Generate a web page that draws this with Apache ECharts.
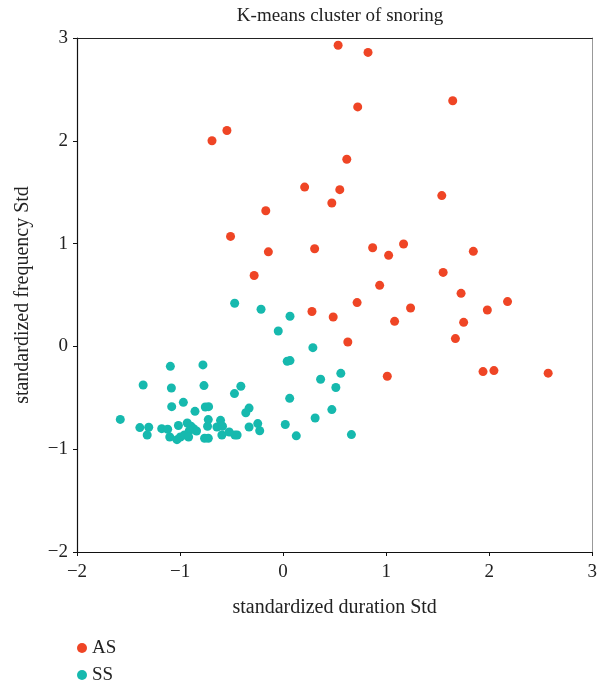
<!DOCTYPE html>
<html>
<head>
<meta charset="utf-8">
<script src="https://cdn.jsdelivr.net/npm/echarts@6/dist/echarts.min.js"></script>
<style>html,body{margin:0;padding:0;background:#fff}#c{width:600px;height:690px}</style>
</head>
<body>
<div id="c"></div>
<script>
const titleText = "K-means cluster of snoring";
const xName = "standardized duration Std";
const yName = "standardized frequency Std";
const seriesNames = ["AS", "SS"];
const xTicks = [-2, -1, 0, 1, 2, 3];
const yTicks = [-2, -1, 0, 1, 2, 3];

const asPoints = [
  [0.534, 2.93], [0.824, 2.86], [0.724, 2.33], [-0.545, 2.10], [-0.69, 2.00],
  [0.618, 1.82], [0.209, 1.55], [0.55, 1.525], [0.473, 1.395], [-0.168, 1.32],
  [1.646, 2.39], [1.540, 1.467], [-0.51, 1.07], [-0.143, 0.92], [0.306, 0.95],
  [0.869, 0.96], [1.024, 0.886], [1.169, 0.996], [1.846, 0.925], [-0.281, 0.69],
  [1.553, 0.72], [0.937, 0.594], [0.718, 0.426], [1.727, 0.516], [0.28, 0.34],
  [0.486, 0.286], [1.237, 0.374], [1.082, 0.244], [2.178, 0.436], [1.982, 0.354],
  [1.752, 0.234], [1.672, 0.076], [0.628, 0.043], [1.011, -0.29], [1.94, -0.245],
  [2.046, -0.235], [2.572, -0.26]
];

const ssPoints = [
  [-0.214, 0.361], [0.067, 0.293], [-0.047, 0.15], [0.289, -0.012], [0.04, -0.145],
  [0.067, -0.138], [-0.41, -0.388], [0.364, -0.32], [0.56, -0.262], [0.512, -0.40],
  [0.064, -0.505], [-0.33, -0.6], [-0.362, -0.645], [0.473, -0.615], [0.311, -0.697],
  [-0.246, -0.751], [-0.227, -0.82], [-0.33, -0.784], [0.021, -0.76], [-0.446, -0.862],
  [-0.468, -0.862], [0.128, -0.87], [0.663, -0.858], [-1.094, -0.194], [-0.778, -0.18],
  [-1.358, -0.375], [-1.084, -0.405], [-0.768, -0.381], [-0.472, -0.459], [-1.081, -0.586],
  [-0.968, -0.544], [-0.855, -0.632], [-0.755, -0.59], [-0.723, -0.586], [-1.58, -0.71],
  [-1.39, -0.79], [-1.304, -0.787], [-1.319, -0.862], [-1.178, -0.80], [-1.12, -0.806],
  [-1.10, -0.881], [-1.016, -0.77], [-0.93, -0.745], [-0.894, -0.777], [-0.868, -0.80],
  [-0.84, -0.823], [-0.91, -0.82], [-1.03, -0.907], [-0.997, -0.881], [-0.958, -0.862],
  [-0.917, -0.881], [-0.762, -0.894], [-0.726, -0.894], [-0.733, -0.777], [-0.726, -0.712],
  [-0.642, -0.784], [-0.607, -0.719], [-0.588, -0.777], [-0.594, -0.862], [-0.523, -0.833],
  [-0.47, 0.42]
];

const colors = ["#ef4525", "#16b9ae"];
const FONT = "Liberation Serif";
const fmt = v => String(v).replace('-', '\u2212');

const chart = echarts.init(document.getElementById('c'), null, {renderer: 'canvas'});
const axisBase = {
  type: 'value',
  splitLine: {show: false},
  axisLine: {show: true, onZero: false, lineStyle: {color: '#111', width: 1.2}},
  axisTick: {show: true, length: 4, lineStyle: {color: '#111'}},
};
chart.setOption({
  animation: false,
  textStyle: {fontFamily: FONT},
  title: {
    text: titleText, left: 335, textAlign: 'center', top: 2,
    textStyle: {fontFamily: FONT, fontSize: 19, fontWeight: 'normal', color: '#222'}
  },
  legend: {
    data: seriesNames, orient: 'vertical', left: 77, top: 638, padding: 0,
    icon: 'circle', itemWidth: 10, itemHeight: 10, itemGap: 7,
    textStyle: {fontFamily: FONT, fontSize: 19, color: '#222', lineHeight: 20}
  },
  grid: {left: 77, right: 6, top: 38, bottom: 138},
  xAxis: [
    Object.assign({}, axisBase, {
      min: xTicks[0], max: xTicks[xTicks.length - 1], interval: 1,
      name: xName, nameLocation: 'middle', nameGap: 46,
      nameTextStyle: {fontFamily: FONT, fontSize: 20, color: '#222'},
      axisLabel: {formatter: fmt, fontFamily: FONT, fontSize: 19, color: '#222', margin: 11}
    }),
    {type: 'value', position: 'top', min: -2, max: 3,
     axisLine: {show: true, onZero: false, lineStyle: {color: '#222', width: 1.2}},
     axisTick: {show: false}, axisLabel: {show: false}, splitLine: {show: false}}
  ],
  yAxis: [
    Object.assign({}, axisBase, {
      min: yTicks[0], max: yTicks[yTicks.length - 1], interval: 1,
      name: yName, nameLocation: 'middle', nameGap: 44, nameRotate: 90,
      nameTextStyle: {fontFamily: FONT, fontSize: 20, color: '#222'},
      axisLabel: {formatter: fmt, fontFamily: FONT, fontSize: 19, color: '#222', margin: 9}
    }),
    {type: 'value', position: 'right', min: -2, max: 3,
     axisLine: {show: true, onZero: false, lineStyle: {color: '#999'}},
     axisTick: {show: false}, axisLabel: {show: false}, splitLine: {show: false}}
  ],
  series: [
    {name: seriesNames[0], type: 'scatter', data: asPoints, symbolSize: 9,
     itemStyle: {color: colors[0], opacity: 1}},
    {name: seriesNames[1], type: 'scatter', data: ssPoints, symbolSize: 9,
     itemStyle: {color: colors[1], opacity: 1}}
  ]
});
</script>
</body>
</html>
